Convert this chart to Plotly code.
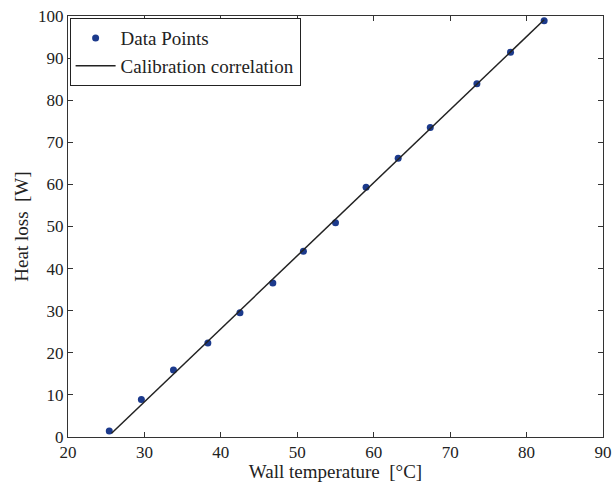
import plotly.graph_objects as go

# Data points
wall_temp = [25.4, 29.6, 33.8, 38.3, 42.5, 46.8, 50.8, 55.0, 59.0, 63.2, 67.4, 73.5, 77.9, 82.3]
heat_loss = [1.4, 8.9, 15.9, 22.3, 29.5, 36.6, 44.1, 50.9, 59.3, 66.2, 73.5, 83.9, 91.4, 98.9]

# Calibration correlation line endpoints
fit_temp = [25.7, 82.3]
fit_loss = [0.9, 99.1]

x_ticks = [20, 30, 40, 50, 60, 70, 80, 90]
y_ticks = [0, 10, 20, 30, 40, 50, 60, 70, 80, 90, 100]

font_family = "Times New Roman"

fig = go.Figure()
fig.add_trace(go.Scatter(
    x=wall_temp, y=heat_loss, mode="markers", name="Data Points",
    marker=dict(color="#1c3a8c", size=7),
))
fig.add_trace(go.Scatter(
    x=fit_temp, y=fit_loss, mode="lines", name="Calibration correlation",
    line=dict(color="#222222", width=1.5),
))

axis_common = dict(
    showline=True, linecolor="#333333", linewidth=1, mirror="ticks",
    ticks="inside", ticklen=5, tickcolor="#333333",
    showgrid=False, zeroline=False,
    tickfont=dict(family=font_family, size=17, color="#222222"),
)

fig.update_layout(
    template="none",
    width=613, height=482,
    margin=dict(l=68, r=10, t=16, b=45),
    paper_bgcolor="white", plot_bgcolor="white",
    font=dict(family=font_family, size=17, color="#222222"),
    xaxis=dict(range=[20, 90], tickvals=x_ticks,
               title=dict(text="Wall temperature  [°C]", standoff=0,
                          font=dict(family=font_family, size=19)),
               **axis_common),
    yaxis=dict(range=[0, 100], tickvals=y_ticks,
               title=dict(text="Heat loss  [W]", standoff=4,
                          font=dict(family=font_family, size=19)),
               **axis_common),
    legend=dict(x=0.003, y=0.995, xanchor="left", yanchor="top",
                bgcolor="white", bordercolor="#222222", borderwidth=1,
                font=dict(family=font_family, size=19, color="#222222"),
                tracegroupgap=0, itemwidth=40),
    showlegend=True,
)

fig.write_html("out.html")
